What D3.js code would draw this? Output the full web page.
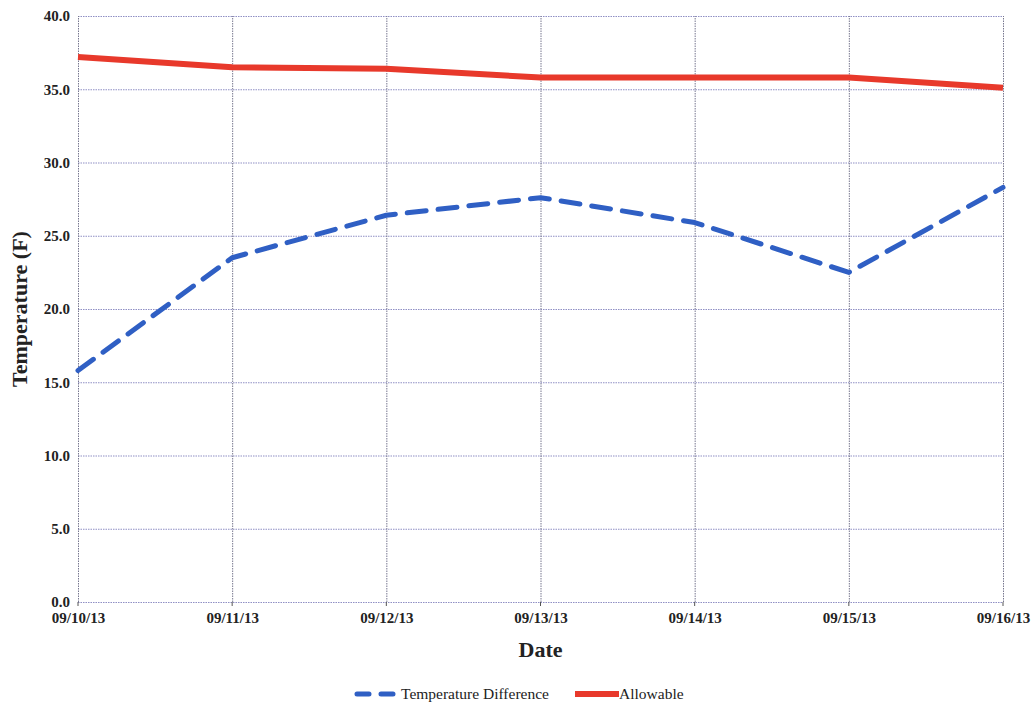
<!DOCTYPE html>
<html>
<head>
<meta charset="utf-8">
<script src="https://cdn.jsdelivr.net/npm/d3@7"></script>
<style>
  body { margin: 0; background: #fff; }
  svg { font-family: "Liberation Serif", "DejaVu Serif", serif; }
</style>
</head>
<body>
<div id="chart"></div>
<script>
/* Temperature difference vs allowable, 09/10/13 - 09/16/13 */

const dates = ["09/10/13", "09/11/13", "09/12/13", "09/13/13", "09/14/13", "09/15/13", "09/16/13"];
const tempDiff = [15.8, 23.5, 26.4, 27.6, 25.9, 22.5, 28.3];
const allowable = [37.2, 36.5, 36.4, 35.8, 35.8, 35.8, 35.1];
const yTicks = [0, 5, 10, 15, 20, 25, 30, 35, 40];

const width = 1035;
const height = 704;
const margin = { top: 16, right: 32, bottom: 102, left: 78 };

const svg = d3.select("#chart")
  .append("svg")
  .attr("width", width)
  .attr("height", height);

const x = d3.scalePoint()
  .domain(dates)
  .range([margin.left, width - margin.right]);

const y = d3.scaleLinear()
  .domain([0, 40])
  .range([height - margin.bottom, margin.top]);

const gridColor = "#8f8fc4";

// Horizontal grid + y labels
svg.append("g")
  .attr("transform", `translate(${margin.left}, 0)`)
  .call(d3.axisLeft(y).tickValues(yTicks).tickFormat(d3.format(".1f"))
    .tickSize(-(width - margin.left - margin.right)).tickPadding(8))
  .call(g => g.select(".domain").remove())
  .call(g => g.selectAll("line").attr("stroke", gridColor).attr("stroke-dasharray", "1.5,1"))
  .call(g => g.selectAll("text").attr("fill", "#222").attr("font-size", 15).attr("font-weight", "bold")
    .attr("font-family", "Liberation Serif, serif"));

// Vertical grid + x labels
svg.append("g")
  .attr("transform", `translate(0, ${height - margin.bottom})`)
  .call(d3.axisBottom(x).tickSize(-(height - margin.top - margin.bottom)).tickPadding(10))
  .call(g => g.select(".domain").remove())
  .call(g => g.selectAll("line").attr("stroke", "#77778f").attr("stroke-dasharray", "1.5,1"))
  .call(g => g.selectAll("text").attr("fill", "#222").attr("font-size", 15).attr("font-weight", "bold")
    .attr("font-family", "Liberation Serif, serif"));

// small tick marks below x axis
svg.append("g")
  .selectAll("line")
  .data(dates)
  .join("line")
  .attr("x1", d => x(d))
  .attr("x2", d => x(d))
  .attr("y1", height - margin.bottom)
  .attr("y2", height - margin.bottom + 4)
  .attr("stroke", "#555");

const line = d3.line()
  .x((d, i) => x(dates[i]))
  .y(d => y(d));

svg.append("path")
  .datum(allowable)
  .attr("d", line)
  .attr("fill", "none")
  .attr("stroke", "#e8392b")
  .attr("stroke-width", 6)
  .attr("stroke-linejoin", "round");

svg.append("path")
  .datum(tempDiff)
  .attr("d", line)
  .attr("fill", "none")
  .attr("stroke", "#2f5fc4")
  .attr("stroke-width", 5)
  .attr("stroke-linecap", "round")
  .attr("stroke-linejoin", "round")
  .attr("stroke-dasharray", "19,12");

// Axis titles
svg.append("text")
  .attr("x", (margin.left + width - margin.right) / 2)
  .attr("y", 657)
  .attr("text-anchor", "middle")
  .attr("font-size", 22)
  .attr("font-weight", "bold")
  .attr("fill", "#222")
  .text("Date");

svg.append("text")
  .attr("transform", `translate(27, ${(margin.top + height - margin.bottom) / 2}) rotate(-90)`)
  .attr("text-anchor", "middle")
  .attr("font-size", 22)
  .attr("font-weight", "bold")
  .attr("fill", "#222")
  .text("Temperature (F)");

// Legend
const legend = svg.append("g").attr("transform", "translate(0, 694)");
legend.append("line")
  .attr("x1", 357).attr("x2", 395).attr("y1", 0).attr("y2", 0)
  .attr("stroke", "#2f5fc4").attr("stroke-width", 5)
  .attr("stroke-linecap", "round").attr("stroke-dasharray", "12,12");
legend.append("text")
  .attr("x", 401).attr("y", 5)
  .attr("font-size", 15.5).attr("fill", "#222")
  .text("Temperature Difference");
legend.append("line")
  .attr("x1", 575).attr("x2", 619).attr("y1", 0).attr("y2", 0)
  .attr("stroke", "#e8392b").attr("stroke-width", 6);
legend.append("text")
  .attr("x", 619).attr("y", 5)
  .attr("font-size", 15.5).attr("fill", "#222")
  .text("Allowable");
</script>
</body>
</html>
